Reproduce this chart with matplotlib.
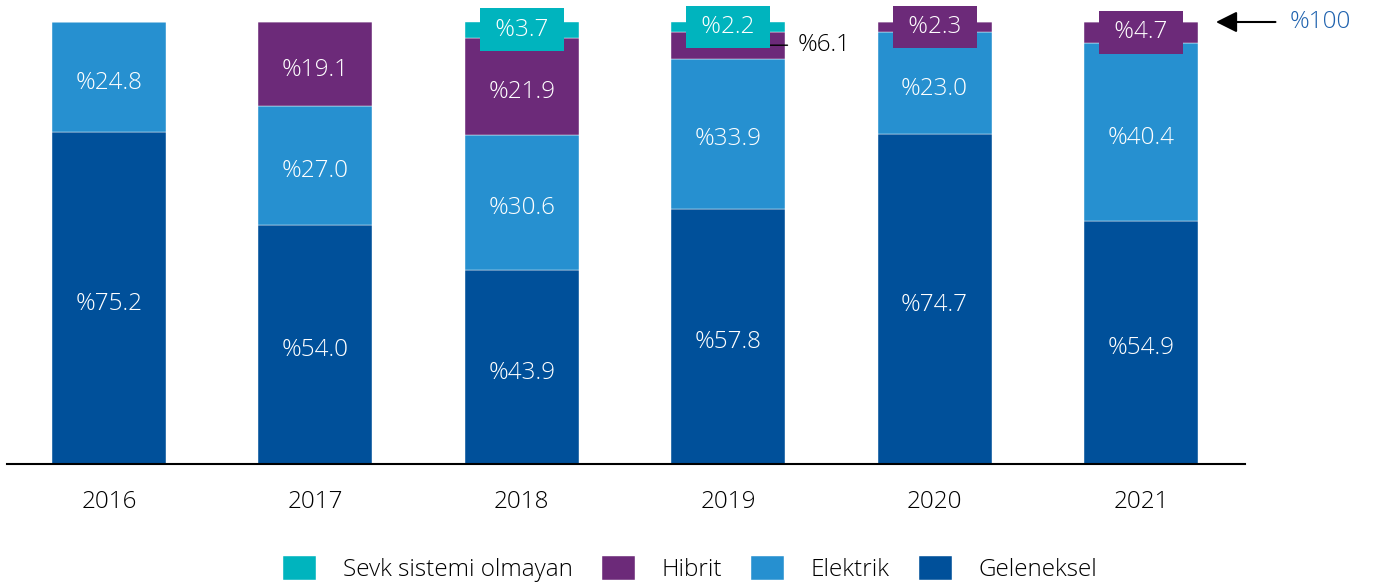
import matplotlib.pyplot as plt
import numpy as np

years = ['2016', '2017', '2018', '2019', '2020', '2021']
geleneksel = [75.2, 54.0, 43.9, 57.8, 74.7, 54.9]
elektrik = [24.8, 27.0, 30.6, 33.9, 23.0, 40.4]
hibrit = [0.0, 19.1, 21.9, 6.1, 2.3, 4.7]
sevk = [0.0, 0.0, 3.7, 2.2, 0.0, 0.0]

series = [('Geleneksel', geleneksel, '#00509A'),
          ('Elektrik', elektrik, '#2690D0'),
          ('Hibrit', hibrit, '#6C2A79'),
          ('Sevk sistemi olmayan', sevk, '#00B4BE')]

plt.rcParams['font.family'] = ['Open Sans', 'DejaVu Sans']
plt.rcParams['font.weight'] = 'light'
fs = 17.5

fig = plt.figure(figsize=(13.75, 5.85), dpi=100)
ax = fig.add_axes([7/1375, 121/585, 1238/1375, 442/585])

x = np.arange(len(years))
w = 0.552
bottom = np.zeros(len(years))
handles = {}
for name, vals, col in series:
    vals = np.array(vals)
    b = ax.bar(x, vals, w, bottom=bottom, color=col, edgecolor='white', linewidth=0.3)
    handles[name] = b
    for i, v in enumerate(vals):
        if v == 0:
            continue
        c = bottom[i] + v / 2
        lbl = '%' + f'{v:.1f}'
        if v < 5:
            ax.text(x[i], c, ' ' + lbl + ' ', ha='center', va='center', color='white', fontsize=fs,
                    bbox=dict(boxstyle='square,pad=0.38', fc=col, ec='none'), clip_on=False)
        elif v < 10:
            ax.annotate(lbl, xy=(x[i] + 0.2, c), xytext=(20, 0), textcoords='offset points',
                        ha='left', va='center', fontsize=fs, color='black',
                        arrowprops=dict(arrowstyle='-', color='black', lw=1, shrinkA=5, shrinkB=0))
        else:
            ax.annotate(lbl, xy=(x[i], c), xytext=(0, -2), textcoords='offset points',
                        ha='center', va='center_baseline', color='white', fontsize=fs)
    bottom += vals

# %100 arrow
ax.annotate('', xy=(5.35, 100), xytext=(5.665, 100),
            arrowprops=dict(arrowstyle='-|>', color='black', lw=1.5, mutation_scale=32))
ax.text(5.72, 100, '%100', ha='left', va='center', fontsize=fs, color='#1F62AE')

ax.set_xlim(-0.494, 5.504)
ax.set_ylim(0, 100)
ax.set_xticks(x)
ax.set_xticklabels(years, fontsize=fs)
ax.tick_params(axis='x', length=0, pad=19)
ax.set_yticks([])
for s in ['top', 'left', 'right']:
    ax.spines[s].set_visible(False)
ax.spines['bottom'].set_linewidth(1.5)

order = ['Sevk sistemi olmayan', 'Hibrit', 'Elektrik', 'Geleneksel']
fig.legend([handles[n] for n in order], order, loc='center', bbox_to_anchor=(0.502, 0.027),
           ncol=4, frameon=False, fontsize=fs, handlelength=1.35, handleheight=1.15,
           handletextpad=1.1, columnspacing=1.2)

plt.savefig('out.png', dpi=100)
